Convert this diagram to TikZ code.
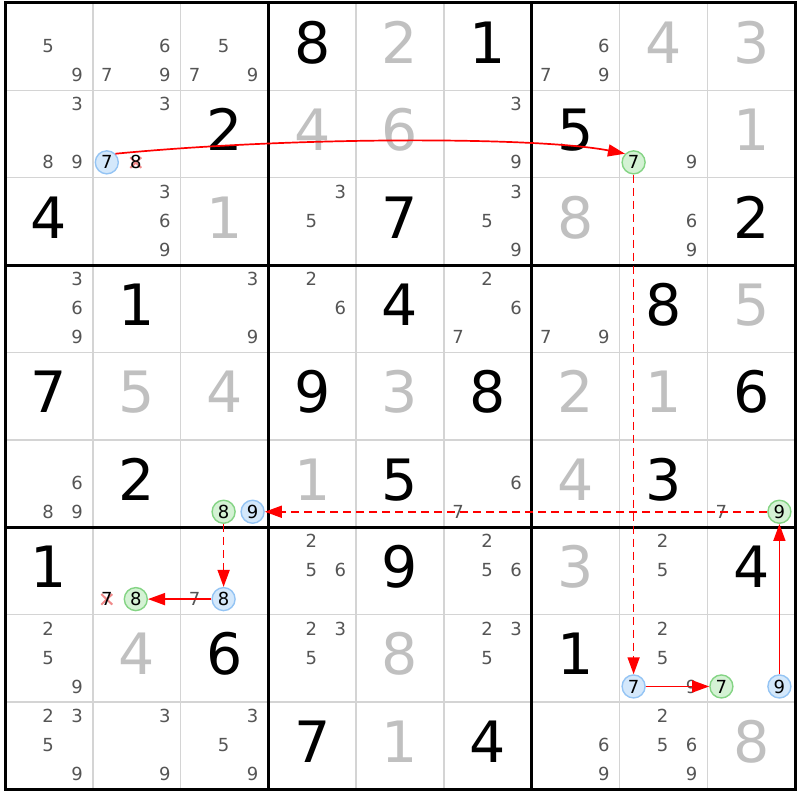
\documentclass[tikz,border=0pt]{standalone}
\usepackage{fontspec}
\setmainfont{DejaVu Sans}
\usetikzlibrary{arrows.meta}
\definecolor{candgray}{HTML}{555555}
\definecolor{solvedgray}{HTML}{C0C0C0}
\definecolor{gridgray}{HTML}{D4D4D4}
\definecolor{bluefill}{HTML}{D4E8FB}
\definecolor{blueedge}{HTML}{94C4F4}
\definecolor{greenfill}{HTML}{D4F2D4}
\definecolor{greenedge}{HTML}{84D484}
\definecolor{linkred}{HTML}{FF0000}
\definecolor{crossred}{HTML}{F08A8A}
\newcommand\placecand[5]{%
  \pgfmathsetmacro\px{5+87.8*#3+14+29*mod(#4-1,3)}%
  \pgfmathsetmacro\py{3+87.35*#2+14+29*int((#4-1)/3)}%
  \node[#1] (#5) at (\px,\py) {#4};}
\begin{document}
\begin{tikzpicture}[x=1pt,y=-1pt,
  cand/.style={font=\fontsize{18}{18}\selectfont, text=candgray, inner sep=0pt, text height=13.1pt, text depth=0pt, anchor=center},
  hl/.style={cand, text=black},
  bluec/.style={hl, circle, minimum size=23pt, fill=bluefill, draw=blueedge, line width=1.4pt},
  greenc/.style={hl, circle, minimum size=23pt, fill=greenfill, draw=greenedge, line width=1.4pt},
  given/.style={font=\fontsize{57}{57}\selectfont, inner sep=0pt, text height=41.6pt, text depth=0pt, text=black, anchor=center},
  solved/.style={given, text=solvedgray},
  link/.style={color=linkred, line width=1.7pt, -{Triangle[length=17pt,width=12pt]}},
  dlink/.style={link, dash pattern=on 8pt off 5pt},
  crossx/.style={draw=crossred, line width=2pt},
  thinline/.style={draw=gridgray, line width=1.5pt},
  thickline/.style={draw=black, line width=3pt}]
\fill[white] (0,0) rectangle (800,800);
\useasboundingbox (0,0) rectangle (800,800);
% grid
\foreach \i in {1,2,4,5,7,8} {
  \draw[thinline] ({5+87.8*\i},3) -- ({5+87.8*\i},789);
  \draw[thinline] (5,{3+87.35*\i}) -- (795,{3+87.35*\i});
}
\foreach \i in {3,6} {
  \draw[thickline] ({5+87.8*\i},3) -- ({5+87.8*\i},789);
  \draw[thickline] (5,{3+87.35*\i}) -- (795,{3+87.35*\i});
}
\draw[thickline] (5,3) rectangle (795,789);
% big digits
\foreach \r/\c/\d in {0/3/8,0/5/1,1/2/2,1/6/5,2/0/4,2/4/7,2/8/2,3/1/1,3/4/4,3/7/8,
  4/0/7,4/3/9,4/5/8,4/8/6,5/1/2,5/4/5,5/7/3,6/0/1,6/4/9,6/8/4,7/2/6,7/6/1,8/3/7,8/5/4} {
  \node[given] (g\r\c) at ({5+87.8*(\c+0.5)},{3+87.35*(\r+0.5)-4}) {\d};
}
\foreach \r/\c/\d in {0/4/2,0/7/4,0/8/3,1/3/4,1/4/6,1/8/1,2/2/1,2/6/8,3/8/5,
  4/1/5,4/2/4,4/4/3,4/6/2,4/7/1,5/3/1,5/6/4,6/6/3,7/1/4,7/4/8,8/4/1,8/8/8} {
  \node[solved] (s\r\c) at ({5+87.8*(\c+0.5)},{3+87.35*(\r+0.5)-4}) {\d};
}
% candidates
\foreach \r/\c/\d in {0/0/5,0/0/9,0/1/6,0/1/7,0/1/9,0/2/5,0/2/7,0/2/9,0/6/6,0/6/7,0/6/9,
  1/0/3,1/0/8,1/0/9,1/1/3,1/5/3,1/5/9,1/7/9,
  2/1/3,2/1/6,2/1/9,2/3/3,2/3/5,2/5/3,2/5/5,2/5/9,2/7/6,2/7/9,
  3/0/3,3/0/6,3/0/9,3/2/3,3/2/9,3/3/2,3/3/6,3/5/2,3/5/6,3/5/7,3/6/7,3/6/9,
  5/0/6,5/0/8,5/0/9,5/5/6,5/5/7,5/8/7,
  6/2/7,6/3/2,6/3/5,6/3/6,6/5/2,6/5/5,6/5/6,6/7/2,6/7/5,
  7/0/2,7/0/5,7/0/9,7/3/2,7/3/3,7/3/5,7/5/2,7/5/3,7/5/5,7/7/2,7/7/5,7/7/9,
  8/0/2,8/0/3,8/0/5,8/0/9,8/1/3,8/1/9,8/2/3,8/2/5,8/2/9,8/6/6,8/6/9,8/7/2,8/7/5,8/7/6,8/7/9} {
  \placecand{cand}{\r}{\c}{\d}{n\r\c\d}
}
% crossed-out candidates
\placecand{hl,opacity=0}{1}{1}{8}{xa}
\placecand{hl,opacity=0}{6}{1}{7}{xb}
\draw[crossx] (xa.center) +(-5.5,-5) -- +(5.5,5.5) (xa.center) +(-5.5,5.5) -- +(5.5,-5);
\draw[crossx] (xb.center) +(-5.5,-5) -- +(5.5,5.5) (xb.center) +(-5.5,5.5) -- +(5.5,-5);
\placecand{hl}{1}{1}{8}{xa2}
\placecand{hl}{6}{1}{7}{xb2}
% highlighted candidates
\placecand{bluec}{1}{1}{7}{a}
\placecand{greenc}{1}{7}{7}{b}
\placecand{bluec}{7}{7}{7}{c}
\placecand{greenc}{7}{8}{7}{d}
\placecand{bluec}{7}{8}{9}{e}
\placecand{greenc}{5}{8}{9}{f}
\placecand{bluec}{5}{2}{9}{g}
\placecand{greenc}{5}{2}{8}{h}
\placecand{bluec}{6}{2}{8}{i}
\placecand{greenc}{6}{1}{8}{j}
% links
\draw[link] (a.north east) .. controls (300,136) and (540,137) .. (b.north west);
\draw[dlink] (b) -- (c);
\draw[link] (c) -- (d);
\draw[link] (e) -- (f);
\draw[dlink] (f) -- (g);
\draw[dlink] (h) -- (i);
\draw[link] (i) -- (j);
\end{tikzpicture}
\end{document}
